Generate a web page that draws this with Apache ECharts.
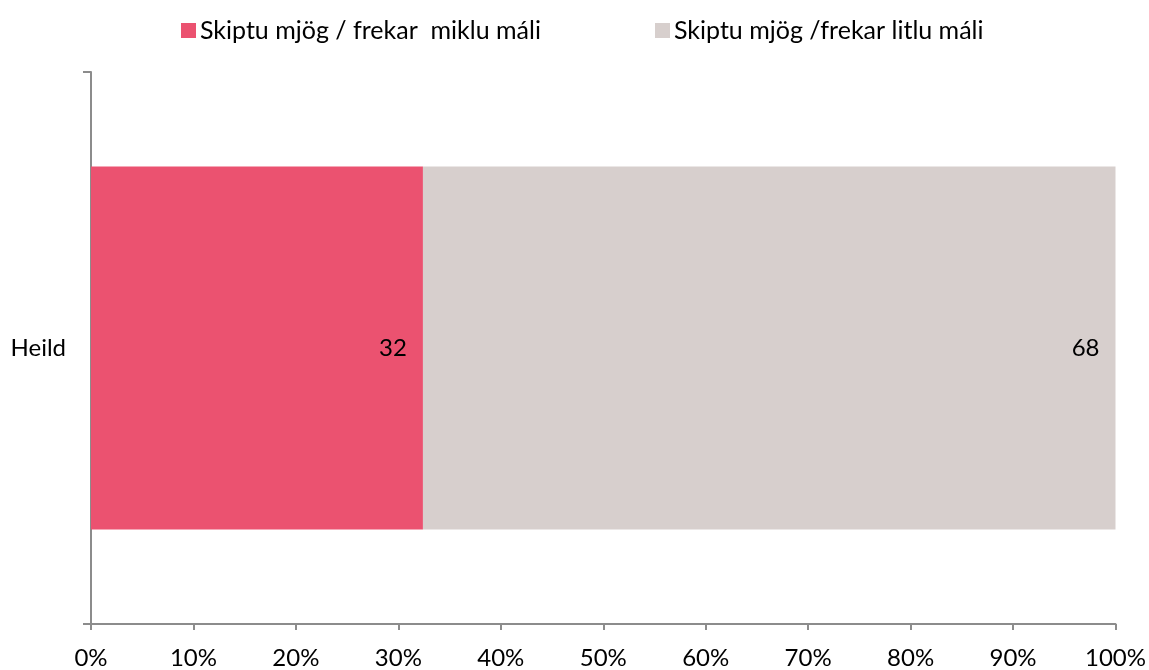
<!DOCTYPE html>
<html>
<head>
<meta charset="utf-8">
<script src="https://cdn.jsdelivr.net/npm/echarts@6/dist/echarts.min.js"></script>
<style>
html,body{margin:0;padding:0;background:#fff;}
#chart{width:1149px;height:670px;}
</style>
</head>
<body>
<div id="chart"></div>
<script>
const categories = ['Heild'];
const seriesNames = ['Skiptu mjög / frekar  miklu máli', 'Skiptu mjög /frekar litlu máli'];
const seriesMuch = [32.4];
const seriesLittle = [67.6];
const xTicks = [0, 10, 20, 30, 40, 50, 60, 70, 80, 90, 100];

const FONT = 'Lato, "Open Sans", sans-serif';
const FS = 24;
const colors = ['#EB5270', '#D7CFCD'];

const chart = echarts.init(document.getElementById('chart'), null, {renderer: 'canvas'});
const labelCfg = {
  show: true,
  position: 'insideRight',
  distance: 16,
  color: '#000',
  fontFamily: FONT,
  fontSize: FS,
  formatter: p => String(Math.round(p.value))
};
const legendBase = {
  top: 13,
  itemWidth: 15,
  itemHeight: 15,
  icon: 'rect',
  textStyle: {fontFamily: FONT, fontSize: 25, color: '#000', padding: [0, 0, 0, -1]}
};
chart.setOption({
  animation: false,
  backgroundColor: '#fff',
  textStyle: {fontFamily: FONT},
  legend: [
    Object.assign({}, legendBase, {left: 176, data: [seriesNames[0]]}),
    Object.assign({}, legendBase, {left: 650, data: [seriesNames[1]]})
  ],
  grid: {left: 91, right: 32, top: 72, bottom: 44, containLabel: false},
  xAxis: {
    type: 'value',
    min: xTicks[0],
    max: xTicks[xTicks.length - 1],
    interval: 10,
    axisLine: {show: true, lineStyle: {color: '#8c8c8c', width: 2}},
    axisTick: {show: true, length: 6, lineStyle: {color: '#8c8c8c', width: 2}},
    splitLine: {show: false},
    axisLabel: {formatter: '{value}%', color: '#000', fontFamily: FONT, fontSize: FS, margin: 22}
  },
  yAxis: {
    type: 'category',
    data: categories,
    inverse: true,
    axisLine: {show: true, lineStyle: {color: '#8c8c8c', width: 2}},
    axisTick: {show: true, length: 8, lineStyle: {color: '#8c8c8c', width: 2}},
    axisLabel: {color: '#000', fontFamily: FONT, fontSize: FS, margin: 25}
  },
  series: [
    {
      name: seriesNames[0], type: 'bar', stack: 'total', data: seriesMuch,
      barWidth: 363, itemStyle: {color: colors[0]}, label: labelCfg
    },
    {
      name: seriesNames[1], type: 'bar', stack: 'total', data: seriesLittle,
      barWidth: 363, itemStyle: {color: colors[1]}, label: labelCfg
    }
  ]
});
</script>
</body>
</html>
